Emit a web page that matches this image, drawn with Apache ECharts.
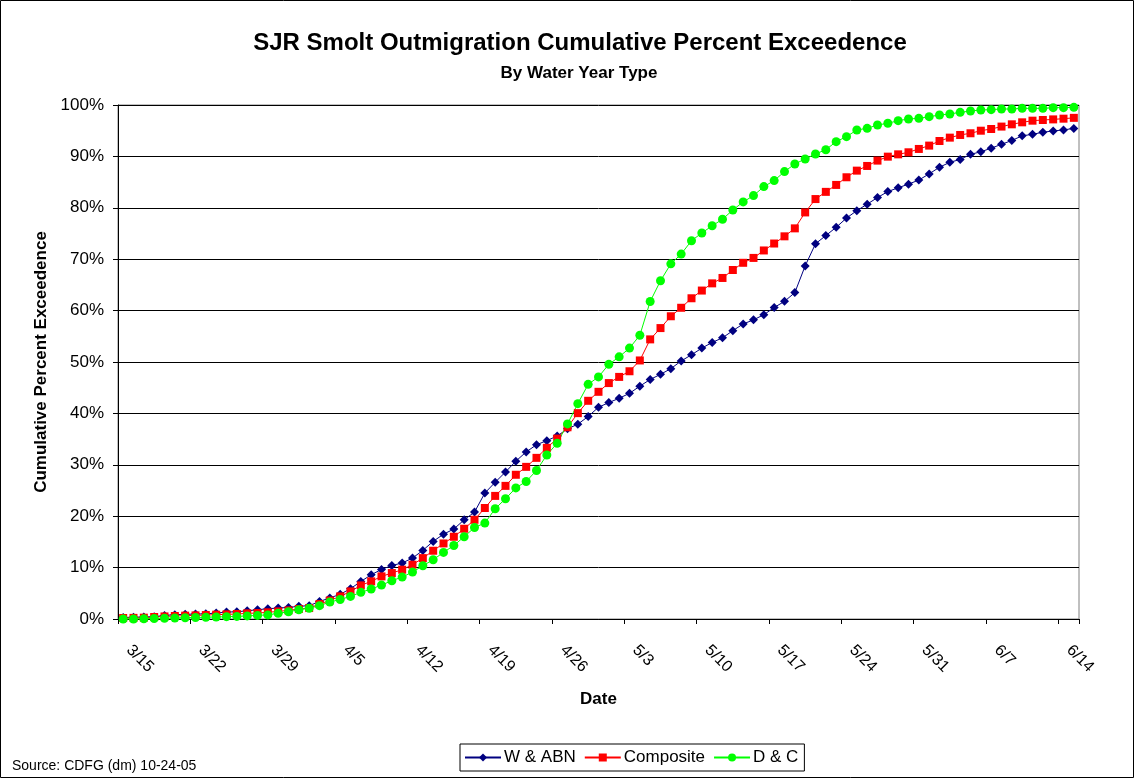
<!DOCTYPE html>
<html>
<head>
<meta charset="utf-8">
<title>SJR Smolt Outmigration Cumulative Percent Exceedence</title>
<script src="https://cdn.jsdelivr.net/npm/echarts@6/dist/echarts.min.js"></script>
<style>
  html, body { margin: 0; padding: 0; background: #fff; }
  #chart { width: 1135px; height: 780px; }
</style>
</head>
<body>
<div id="chart"></div>
<script>
// Daily dates, 15 March to 15 June
const dates = [
  '3/15','3/16','3/17','3/18','3/19','3/20','3/21','3/22','3/23','3/24','3/25','3/26','3/27','3/28',
  '3/29','3/30','3/31','4/1','4/2','4/3','4/4','4/5','4/6','4/7','4/8','4/9','4/10','4/11',
  '4/12','4/13','4/14','4/15','4/16','4/17','4/18','4/19','4/20','4/21','4/22','4/23','4/24','4/25',
  '4/26','4/27','4/28','4/29','4/30','5/1','5/2','5/3','5/4','5/5','5/6','5/7','5/8','5/9',
  '5/10','5/11','5/12','5/13','5/14','5/15','5/16','5/17','5/18','5/19','5/20','5/21','5/22','5/23',
  '5/24','5/25','5/26','5/27','5/28','5/29','5/30','5/31','6/1','6/2','6/3','6/4','6/5','6/6',
  '6/7','6/8','6/9','6/10','6/11','6/12','6/13','6/14','6/15'
];

// Cumulative percent, wet and above-normal years
const wetAbn = [
  0.3, 0.35, 0.4, 0.45, 0.7, 0.84, 0.9, 0.97, 1.0, 1.16, 1.35, 1.4, 1.6, 1.8,
  2.0, 2.13, 2.26, 2.46, 2.6, 3.4, 4.1, 4.8, 5.9, 7.3, 8.6, 9.65, 10.4, 10.9,
  11.85, 13.35, 15.1, 16.5, 17.5, 19.3, 20.8, 24.5, 26.6, 28.6, 30.7, 32.5, 33.9, 34.7,
  35.6, 37.0, 37.9, 39.4, 41.2, 42.1, 42.95, 43.9, 45.3, 46.6, 47.6, 48.7, 50.2, 51.4,
  52.7, 53.8, 54.7, 56.1, 57.4, 58.2, 59.2, 60.6, 61.8, 63.5, 68.7, 73.0, 74.6, 76.2,
  78.0, 79.45, 80.7, 82.0, 83.15, 83.9, 84.6, 85.4, 86.6, 87.9, 88.85, 89.4, 90.4, 90.9,
  91.6, 92.35, 93.1, 94.0, 94.3, 94.7, 94.95, 95.15, 95.45
];

// Cumulative percent, all years combined
const composite = [
  0.2, 0.22, 0.26, 0.39, 0.5, 0.58, 0.65, 0.7, 0.77, 0.84, 0.9, 0.97, 1.1, 1.16,
  1.3, 1.48, 1.68, 1.94, 2.13, 2.9, 3.6, 4.4, 5.37, 6.54, 7.32, 8.29, 8.94, 9.59,
  10.56, 11.85, 13.28, 14.7, 16.0, 17.56, 19.3, 21.6, 23.95, 25.9, 28.06, 29.6, 31.35, 33.3,
  35.1, 37.3, 40.05, 42.45, 44.2, 45.9, 47.1, 48.2, 50.3, 54.4, 56.6, 58.9, 60.55, 62.4,
  63.9, 65.3, 66.35, 67.9, 69.3, 70.25, 71.7, 73.05, 74.45, 76.0, 79.1, 81.7, 83.1, 84.45,
  85.94, 87.23, 88.14, 89.18, 89.95, 90.4, 90.8, 91.45, 92.1, 93.0, 93.65, 94.17, 94.5, 95.0,
  95.33, 95.8, 96.24, 96.63, 96.95, 97.08, 97.2, 97.34, 97.5
];

// Cumulative percent, dry and critical years
const dryCrit = [
  0.0, 0.0, 0.05, 0.1, 0.15, 0.2, 0.25, 0.3, 0.35, 0.4, 0.45, 0.5, 0.6, 0.7,
  0.8, 1.1, 1.4, 1.8, 2.1, 2.6, 3.3, 3.8, 4.4, 5.18, 5.83, 6.6, 7.45, 8.16,
  9.13, 10.36, 11.53, 12.96, 14.3, 16.0, 17.8, 18.66, 21.45, 23.4, 25.5, 26.76, 28.9, 31.9,
  34.2, 37.95, 41.9, 45.65, 47.1, 49.55, 51.0, 52.7, 55.2, 61.76, 65.8, 69.1, 71.0, 73.6,
  75.1, 76.5, 77.77, 79.58, 81.14, 82.37, 84.12, 85.29, 87.04, 88.53, 89.5, 90.47, 91.3, 92.87,
  93.84, 95.14, 95.46, 96.11, 96.44, 96.95, 97.28, 97.4, 97.73, 98.05, 98.25, 98.57, 98.83, 99.03,
  99.1, 99.22, 99.22, 99.35, 99.35, 99.35, 99.48, 99.48, 99.55
];

const seriesNames = ['W & ABN', 'Composite', 'D & C'];
const FONT = '"Liberation Sans", Arial, sans-serif';

const chart = echarts.init(document.getElementById('chart'), null, { renderer: 'canvas' });

function lineSeries(name, data, color, symbol, size) {
  return {
    name: name,
    type: 'line',
    data: data,
    symbol: symbol,
    symbolSize: size,
    showAllSymbol: true,
    lineStyle: { color: color, width: 1 },
    itemStyle: { color: color, borderWidth: 0 },
    emphasis: { disabled: true },
    z: 3
  };
}

chart.setOption({
  animation: false,
  backgroundColor: '#ffffff',
  textStyle: { fontFamily: FONT },
  title: [
    {
      text: 'SJR Smolt Outmigration Cumulative Percent Exceedence',
      left: 575, top: 26, textAlign: 'center',
      textStyle: { fontFamily: FONT, fontSize: 24, fontWeight: 'bold', color: '#000' }
    },
    {
      text: 'By Water Year Type',
      left: 574, top: 60, textAlign: 'center',
      textStyle: { fontFamily: FONT, fontSize: 17, fontWeight: 'bold', color: '#000' }
    }
  ],
  legend: {
    data: seriesNames,
    left: 460, top: 744,
    padding: [5, 6, 5, 4],
    itemGap: 8,
    itemWidth: 36,
    itemHeight: 10,
    borderColor: '#000',
    borderWidth: 1,
    backgroundColor: '#fff',
    textStyle: { fontFamily: FONT, fontSize: 17, color: '#000', padding: [0, 0, 0, -2] }
  },
  grid: {
    left: 118, top: 105, width: 961, height: 514,
    show: true, borderColor: '#808080', borderWidth: 1, backgroundColor: '#fff'
  },
  xAxis: {
    type: 'category',
    data: dates,
    boundaryGap: true,
    name: 'Date',
    nameLocation: 'middle',
    nameGap: 72,
    nameTextStyle: { fontFamily: FONT, fontSize: 17, fontWeight: 'bold', color: '#000' },
    axisLine: { lineStyle: { color: '#000', width: 1 } },
    axisTick: { show: true, interval: 6, length: 5, lineStyle: { color: '#000' } },
    axisLabel: {
      interval: 6, rotate: -45, margin: 23, padding: [0, 0, 0, 8],
      fontFamily: FONT, fontSize: 16, color: '#000'
    },
    splitLine: { show: false }
  },
  yAxis: {
    type: 'value',
    min: 0, max: 100, interval: 10,
    name: 'Cumulative Percent Exceedence',
    nameLocation: 'middle',
    nameRotate: 90,
    nameGap: 65,
    nameTextStyle: { fontFamily: FONT, fontSize: 17, fontWeight: 'bold', color: '#000' },
    axisLine: { show: true, lineStyle: { color: '#000', width: 1 } },
    axisTick: { show: true, length: 5, lineStyle: { color: '#000' } },
    axisLabel: {
      formatter: '{value}%', margin: 14,
      fontFamily: FONT, fontSize: 17, color: '#000'
    },
    splitLine: { show: true, lineStyle: { color: '#000', width: 1 } }
  },
  graphic: [
    {
      type: 'rect', silent: true, z: -1,
      shape: { x: 0.5, y: 0.5, width: 1133, height: 777 },
      style: { fill: 'none', stroke: '#000', lineWidth: 1 }
    },
    {
      type: 'text', left: 12, top: 759, silent: true,
      style: { text: 'Source: CDFG (dm) 10-24-05', font: '14px ' + FONT, fill: '#000' }
    }
  ],
  series: [
    lineSeries(seriesNames[0], wetAbn, '#000080', 'diamond', 9),
    lineSeries(seriesNames[1], composite, '#ff0000', 'rect', 8),
    lineSeries(seriesNames[2], dryCrit, '#00ff00', 'circle', 9)
  ]
});
</script>
</body>
</html>
